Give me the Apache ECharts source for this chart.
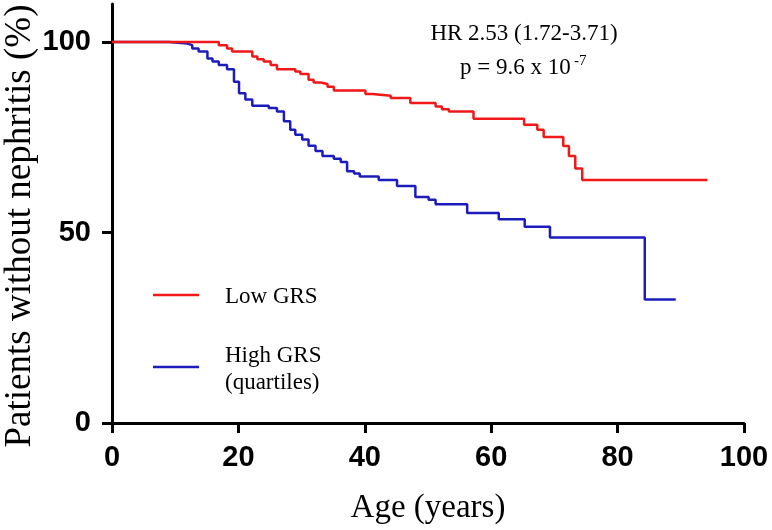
<!DOCTYPE html>
<html>
<head>
<meta charset="utf-8">
<script src="https://cdn.jsdelivr.net/npm/echarts@6/dist/echarts.min.js"></script>
<style>
html,body{margin:0;padding:0;background:#fff;}
#chart{width:772px;height:530px;}
</style>
</head>
<body>
<div id="chart"></div>
<script>
// Kaplan-Meier step data: age (years) and % patients without nephritis
var lowGrsAge  = [0, 16.9, 18.2, 19.0, 22.2, 23.0, 24.0, 25.1, 26.1, 29.0, 29.8, 31.1, 31.9, 33.0, 34.1, 35.1, 40.1, 41.2, 44.1, 47.2, 51.2, 52.2, 53.3, 57.2, 65.2, 67.3, 68.3, 71.4, 72.3, 73.3, 74.4, 94.2];
var lowGrsPct  = [100, 99.2, 98.3, 97.5, 96.2, 95.5, 94.9, 94.0, 92.9, 92.3, 91.6, 90.1, 89.4, 89.0, 88.3, 87.3, 86.4, 85.9, 85.3, 84.0, 83.1, 82.4, 81.8, 79.9, 78.3, 77.0, 75.1, 72.7, 70.1, 66.8, 63.8, 63.8];
var highGrsAge = [0, 9.0, 11.9, 12.7, 13.7, 15.1, 15.9, 16.9, 18.2, 19.3, 20.1, 21.1, 22.2, 24.8, 26.1, 27.2, 28.2, 29.0, 30.1, 31.1, 32.2, 33.3, 35.1, 36.2, 37.2, 38.3, 39.2, 42.2, 45.1, 48.0, 50.1, 51.2, 56.2, 61.2, 65.3, 69.3, 84.3, 89.2];
var highGrsPct = [100, 99.6, 99.2, 98.3, 97.5, 95.7, 94.9, 94.0, 92.9, 89.6, 86.6, 84.9, 83.3, 82.7, 81.8, 79.2, 77.0, 75.7, 74.4, 72.8, 71.4, 70.1, 69.4, 68.5, 66.1, 65.5, 64.7, 63.8, 62.2, 59.3, 58.6, 57.4, 55.1, 53.5, 51.5, 48.7, 32.4, 32.4];
var xTicks = [0, 20, 40, 60, 80, 100];
var yTicks = [0, 50, 100];
var seriesNames = ['Low GRS', 'High GRS\n(quartiles)'];
var xTitle = 'Age (years)';
var yTitle = 'Patients without nephritis (%)';
var hrText = 'HR 2.53 (1.72-3.71)';
var pText = 'p = 9.6 x 10';
var pExp = '-7';

function pairs(a, b) { return a.map(function (v, i) { return [v, b[i]]; }); }

var tickFont = "'Liberation Sans Narrow', 'Arial Narrow', 'Liberation Sans', sans-serif";
var serif = "'Liberation Serif', 'Times New Roman', serif";
var RED = '#f01818';
var BLUE = '#1c1cbd';

var chart = echarts.init(document.getElementById('chart'), null, {renderer: 'canvas'});
chart.setOption({
  animation: false,
  backgroundColor: '#ffffff',
  grid: {left: 112, right: 28, top: 4, bottom: 105},
  xAxis: {
    type: 'value', min: xTicks[0], max: xTicks[xTicks.length - 1], interval: 20,
    name: xTitle, nameLocation: 'middle', nameGap: 69,
    nameTextStyle: {fontFamily: serif, fontSize: 33, color: '#000'},
    axisLine: {show: true, onZero: false, lineStyle: {color: '#000', width: 3}},
    axisTick: {show: true, length: 10, lineStyle: {color: '#000', width: 3}, customValues: xTicks},
    axisLabel: {margin: 20, fontFamily: tickFont, fontWeight: 'bold', fontSize: 29, color: '#000', customValues: xTicks},
    splitLine: {show: false}
  },
  yAxis: {
    type: 'value', min: 0, max: 110, interval: 50,
    axisLine: {show: true, onZero: false, lineStyle: {color: '#000', width: 3}},
    axisTick: {show: true, length: 10, lineStyle: {color: '#000', width: 3}, customValues: yTicks},
    axisLabel: {margin: 21, fontFamily: tickFont, fontWeight: 'bold', fontSize: 29, color: '#000', customValues: yTicks},
    splitLine: {show: false}
  },
  series: [
    {
      name: seriesNames[1], type: 'line', step: 'end', showSymbol: false, z: 2,
      data: pairs(highGrsAge, highGrsPct),
      lineStyle: {color: BLUE, width: 2.5}, itemStyle: {color: BLUE}
    },
    {
      name: seriesNames[0], type: 'line', step: 'end', showSymbol: false, z: 3,
      data: pairs(lowGrsAge, lowGrsPct),
      lineStyle: {color: RED, width: 2.5}, itemStyle: {color: RED}
    }
  ],
  graphic: [
    {type: 'text', x: 20, y: 226, rotation: Math.PI / 2,
     style: {text: yTitle, fontFamily: serif, fontSize: 37, fill: '#000', align: 'center', verticalAlign: 'middle'}},
    {type: 'text', x: 524, y: 34,
     style: {text: hrText, fontFamily: serif, fontSize: 23, fill: '#000', align: 'center', verticalAlign: 'middle'}},
    {type: 'text', x: 460, y: 68,
     style: {text: pText, fontFamily: serif, fontSize: 23, fill: '#000', align: 'left', verticalAlign: 'middle'}},
    {type: 'text', x: 574, y: 61,
     style: {text: pExp, fontFamily: serif, fontSize: 15, fill: '#000', align: 'left', verticalAlign: 'middle'}},
    {type: 'line', shape: {x1: 153, y1: 295, x2: 199, y2: 295}, style: {stroke: RED, lineWidth: 2.5}},
    {type: 'text', x: 225, y: 297,
     style: {text: seriesNames[0], fontFamily: serif, fontSize: 23, fill: '#000', align: 'left', verticalAlign: 'middle'}},
    {type: 'line', shape: {x1: 153, y1: 367, x2: 199, y2: 367}, style: {stroke: BLUE, lineWidth: 2.5}},
    {type: 'text', x: 225, y: 369,
     style: {text: seriesNames[1], fontFamily: serif, fontSize: 23, lineHeight: 27, fill: '#000', align: 'left', verticalAlign: 'middle'}}
  ]
});
</script>
</body>
</html>
